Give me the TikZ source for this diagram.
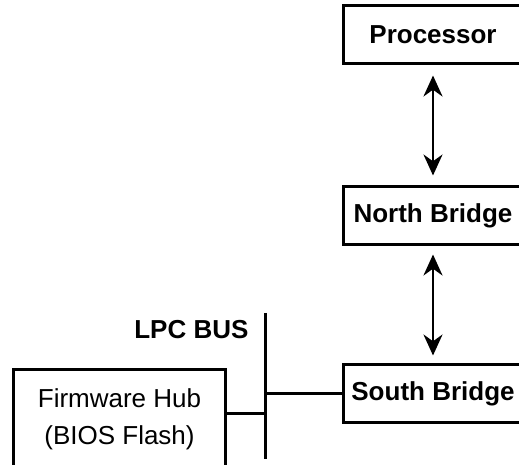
\documentclass[tikz,border=0pt]{standalone}
\usepackage{fontspec}
\setmainfont{Liberation Sans}
\usetikzlibrary{positioning,arrows.meta}

\begin{document}
\begin{tikzpicture}[x=1pt, y=1pt,
  box/.style={draw, line width=3pt, align=center, font=\fontsize{26}{37}\selectfont\bfseries, inner sep=0pt, minimum width=180pt, minimum height=58pt},
  lab/.style={font=\fontsize{26}{30}\selectfont\bfseries},
  arr/.style={{Stealth[length=21pt,width=19pt]}-{Stealth[length=21pt,width=19pt]}, line width=2.6pt},
  bus/.style={line width=3pt}]
\clip (0,0) rectangle (519,465);
\node[box] (proc) at (433,430) {Processor};
\node[box, below=120pt of proc] (nb) {North Bridge};
\node[box, below=117pt of nb] (sb) {South Bridge};
\node[box, anchor=north west, font=\fontsize{26}{37}\selectfont, minimum width=212pt, minimum height=100pt] (fw) at (12,97) {Firmware Hub\\(BIOS Flash)};
% LPC bus line
\coordinate (bustop) at (265,152);
\coordinate (busbot) at (265,6);
\coordinate (fwtap) at (265,51);
\node[lab, anchor=east] (lpc) at (252,135) {LPC BUS};
\draw[bus] (bustop) -- (busbot);
\draw[bus] (sb.west) -- (sb.west -| bustop);
\draw[bus] (fwtap) -- (fwtap -| fw.east);
\draw[arr] ([yshift=-10pt]proc.south) -- ([yshift=10pt]nb.north);
\draw[arr] ([yshift=-8pt]nb.south) -- ([yshift=8pt]sb.north);
\end{tikzpicture}
\end{document}
